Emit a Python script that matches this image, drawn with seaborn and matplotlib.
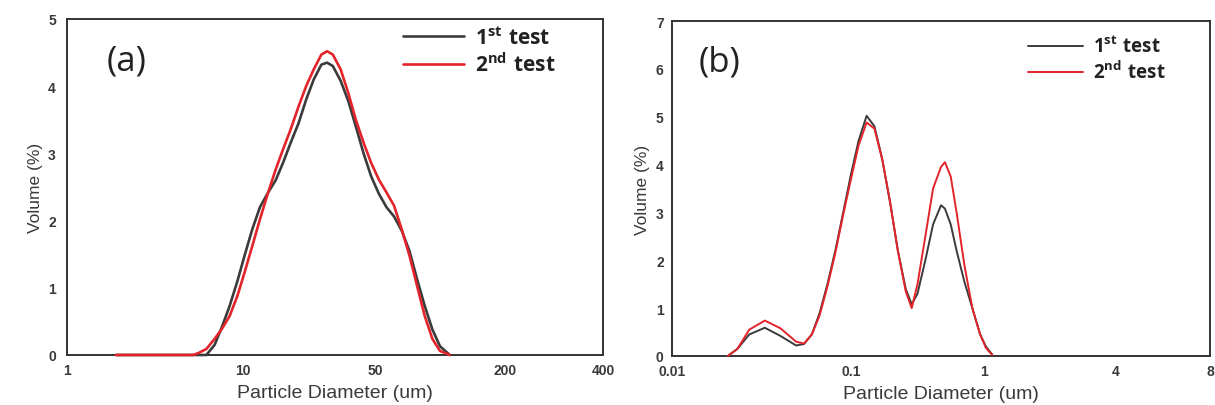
import numpy as np
import pandas as pd
import matplotlib
matplotlib.use("Agg")
import matplotlib.pyplot as plt
import seaborn as sns

# ---- data -------------------------------------------------------------
# (a) coarse powder, diameter in um
diam_a = [1.9, 5.2, 5.6, 6.2, 6.9, 7.6, 8.4, 9.3, 10.2, 11.2,
          12.3, 13.6, 14.9, 16.3, 17.9, 19.7, 21.6, 23.7, 26.0, 27.9,
          29.9, 32.9, 36.1, 39.6, 43.5, 47.7, 52.1, 56.5, 61.3, 66.5,
          72.2, 78.3, 85.0, 92.2, 100, 111]
test1_a = [0, 0, 0, 0, 0.15, 0.42, 0.73, 1.1, 1.48, 1.87,
           2.2, 2.42, 2.6, 2.86, 3.16, 3.45, 3.8, 4.1, 4.32, 4.35,
           4.3, 4.08, 3.78, 3.4, 3.0, 2.66, 2.4, 2.2, 2.06, 1.85,
           1.55, 1.13, 0.73, 0.38, 0.13, 0]
test2_a = [0, 0, 0.03, 0.09, 0.24, 0.39, 0.58, 0.88, 1.23, 1.62,
           2.02, 2.42, 2.76, 3.06, 3.36, 3.7, 4.0, 4.25, 4.47, 4.52,
           4.47, 4.25, 3.9, 3.5, 3.16, 2.86, 2.61, 2.42, 2.22, 1.87,
           1.48, 1.03, 0.58, 0.24, 0.06, 0]

# (b) fine powder, diameter in um
diam_b = [0.0205, 0.0232, 0.027, 0.033, 0.0403, 0.0493, 0.0546, 0.0604, 0.0668, 0.0738,
          0.0817, 0.0904, 0.1, 0.114, 0.131, 0.15, 0.172, 0.197, 0.225, 0.258,
          0.286, 0.316, 0.362, 0.414, 0.475, 0.508, 0.562, 0.622, 0.712, 0.817,
          0.935, 1.02, 1.09]
test1_b = [0, 0.15, 0.45, 0.59, 0.42, 0.22, 0.25, 0.45, 0.9, 1.5,
           2.2, 3.0, 3.8, 4.5, 5.02, 4.8, 4.1, 3.2, 2.2, 1.4,
           1.08, 1.3, 2.0, 2.75, 3.15, 3.08, 2.75, 2.2, 1.55, 1.0,
           0.45, 0.2, 0.03]
test2_b = [0, 0.15, 0.55, 0.74, 0.58, 0.3, 0.26, 0.45, 0.85, 1.45,
           2.15, 2.95, 3.7, 4.4, 4.88, 4.75, 4.1, 3.2, 2.2, 1.35,
           1.0, 1.5, 2.5, 3.5, 3.95, 4.05, 3.75, 3.0, 1.9, 1.0,
           0.45, 0.17, 0.02]

series_labels = [r"$\mathbf{1^{st}\ test}$", r"$\mathbf{2^{nd}\ test}$"]
ticks_a = [1, 10, 50, 200, 400]
ticks_b = [0.01, 0.1, 1, 4, 8]
tick_labels_a = ["1", "10", "50", "200", "400"]
tick_labels_b = ["0.01", "0.1", "1", "4", "8"]

# ---- style ------------------------------------------------------------
sns.set_style("white")
plt.rcParams["font.family"] = ["Liberation Sans", "DejaVu Sans"]
plt.rcParams["mathtext.fontset"] = "custom"
plt.rcParams["mathtext.rm"] = "Open Sans"
plt.rcParams["mathtext.bf"] = "Open Sans:bold"

TXT = "#3a3a3a"
palette = {series_labels[0]: "#3b3b3b", series_labels[1]: "#e3242b"}


def tick_scale(tick_vals, spacing):
    """Piecewise-logarithmic axis: each labelled tick sits at a fixed spacing."""
    logs = np.log10(np.asarray(tick_vals, dtype=float))
    pos = np.concatenate([[0.0], np.cumsum(spacing)])

    def fwd(x):
        lx = np.log10(np.clip(np.asarray(x, dtype=float), 1e-12, None))
        return np.interp(lx, logs, pos, left=-1e3, right=1e4)

    def inv(y):
        return 10 ** np.interp(np.asarray(y, dtype=float), pos, logs)

    return fwd, inv


def make_frame(diam, s1, s2):
    return pd.DataFrame({
        "diameter": list(diam) * 2,
        "volume": list(s1) + list(s2),
        "test": [series_labels[0]] * len(diam) + [series_labels[1]] * len(diam),
    })


fig = plt.figure(figsize=(12.15, 4.06), dpi=100)
ax_a = fig.add_axes([0.0551, 0.1232, 0.4412, 0.8276])
ax_b = fig.add_axes([0.5531, 0.1207, 0.4428, 0.8251])

panels = [
    (ax_a, make_frame(diam_a, test1_a, test2_a), ticks_a, tick_labels_a,
     [176, 132, 130, 98], 5, "(a)", (0.112, 0.875), (0.62, 0.995), 15.0, 1.9, 8),
    (ax_b, make_frame(diam_b, test1_b, test2_b), ticks_b, tick_labels_b,
     [179, 133, 132, 94], 7, "(b)", (0.089, 0.88), (0.655, 0.97), 13.5, 1.4, 6),
]

for ax, df, tks, tlabels, spacing, ymax, tag, tagpos, legpos, legsize, lw, ypad in panels:
    fwd, inv = tick_scale(tks, spacing)
    ax.set_xscale("function", functions=(fwd, inv))
    sns.lineplot(data=df, x="diameter", y="volume", hue="test", palette=palette,
                 linewidth=lw, ax=ax, legend=True, sort=True, estimator=None,
                 zorder=3, clip_on=False)
    ax.set_xlim(tks[0], tks[-1])
    ax.set_ylim(0, ymax)
    ax.set_xticks(tks)
    ax.set_xticklabels(tlabels)
    ax.xaxis.set_minor_locator(matplotlib.ticker.NullLocator())
    ax.set_yticks(np.arange(0, ymax + 1, 1))
    ax.set_yticks(np.arange(0.5, ymax, 1), minor=True)
    ax.tick_params(axis="both", which="major", direction="in", length=5, width=1.1,
                   color="#333333", labelsize=10, labelcolor=TXT, pad=6)
    ax.tick_params(axis="y", which="major", pad=ypad)
    ax.tick_params(axis="y", which="minor", direction="in", length=3.5, width=1.0,
                   color="#333333")
    for lab in ax.get_xticklabels() + ax.get_yticklabels():
        lab.set_fontweight("bold")
    for sp in ax.spines.values():
        sp.set_linewidth(1.4)
        sp.set_color("#333333")
    ax.set_xlabel("Particle Diameter (um)", fontsize=14, color=TXT, labelpad=5)
    ax.set_ylabel("Volume (%)", fontsize=12.5, color=TXT, labelpad=4)
    ax.text(tagpos[0], tagpos[1], tag, transform=ax.transAxes, ha="center", va="center",
            fontsize=25, family="Open Sans", color="#222222")
    leg = ax.legend(loc="upper left", bbox_to_anchor=legpos, frameon=False,
                    fontsize=legsize, handlelength=2.9, handletextpad=0.55,
                    labelspacing=0.2, borderpad=0.2, borderaxespad=0)
    for line in leg.get_lines():
        line.set_linewidth(lw)
    for t in leg.get_texts():
        t.set_color("#222222")

fig.savefig("out.png", dpi=100)
